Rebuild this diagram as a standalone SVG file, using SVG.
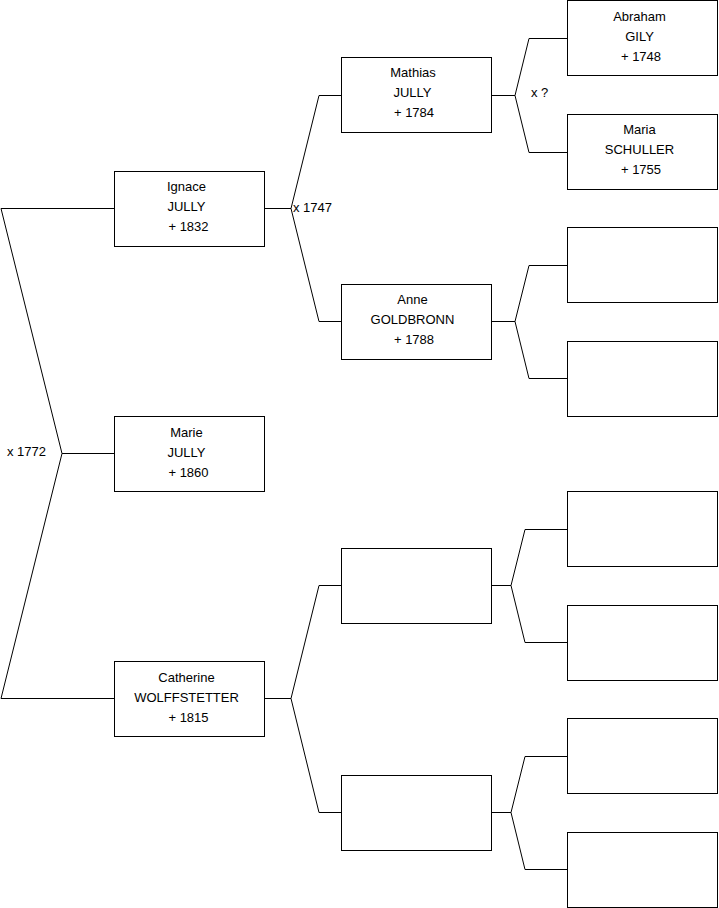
<svg xmlns="http://www.w3.org/2000/svg" width="719" height="908" viewBox="0 0 719 908">
<style>
rect.box{fill:#fff;stroke:#000;stroke-width:1}
.c{fill:none;stroke:#000;stroke-width:1}
text{font-family:"Liberation Sans",Arial,sans-serif;font-size:13px;fill:#000}
.m{text-anchor:middle}
</style>
<rect width="719" height="908" fill="#fff"/>
<g id="connectors">
<polyline class="c" points="114,208.5 1,208.5 62,453.5 1,698.5 114,698.5"/>
<line class="c" x1="62" y1="453.5" x2="114" y2="453.5"/>
<polyline class="c" points="341,95.5 319,95.5 291,208.5 319,321.5 341,321.5"/>
<line class="c" x1="265" y1="208.5" x2="291" y2="208.5"/>
<polyline class="c" points="567,38.5 529,38.5 515,95.5 529,152.5 567,152.5"/>
<line class="c" x1="491" y1="95.5" x2="515" y2="95.5"/>
<polyline class="c" points="567,265.5 529,265.5 515,321.5 529,378.5 567,378.5"/>
<line class="c" x1="491" y1="321.5" x2="515" y2="321.5"/>
<polyline class="c" points="341,585.5 319,585.5 291,698.5 319,812.5 341,812.5"/>
<line class="c" x1="265" y1="698.5" x2="291" y2="698.5"/>
<polyline class="c" points="567,529.5 525,529.5 511,585.5 525,642.5 567,642.5"/>
<line class="c" x1="491" y1="585.5" x2="511" y2="585.5"/>
<polyline class="c" points="567,756.5 525,756.5 511,812.5 525,869.5 567,869.5"/>
<line class="c" x1="491" y1="812.5" x2="511" y2="812.5"/>
<text x="7" y="456">x 1772</text>
<text x="293" y="212">x 1747</text>
<text x="531" y="97">x ?</text>
</g>
<g id="ignace"><rect class="box" x="114.5" y="171.5" width="150" height="75"/><text class="m" x="186.5" y="191">Ignace</text><text class="m" x="186.5" y="211">JULLY</text><text class="m" x="188.5" y="231">+ 1832</text></g>
<g id="marie"><rect class="box" x="114.5" y="416.5" width="150" height="75"/><text class="m" x="186.5" y="437">Marie</text><text class="m" x="186.5" y="457">JULLY</text><text class="m" x="188.5" y="477">+ 1860</text></g>
<g id="catherine"><rect class="box" x="114.5" y="661.5" width="150" height="75"/><text class="m" x="186.5" y="682">Catherine</text><text class="m" x="186.5" y="702">WOLFFSTETTER</text><text class="m" x="188.5" y="722">+ 1815</text></g>
<g id="mathias"><rect class="box" x="341.5" y="57.5" width="150" height="75"/><text class="m" x="413" y="77">Mathias</text><text class="m" x="412.5" y="97">JULLY</text><text class="m" x="414" y="117">+ 1784</text></g>
<g id="anne"><rect class="box" x="341.5" y="284.5" width="150" height="75"/><text class="m" x="412.5" y="304">Anne</text><text class="m" x="412.5" y="324">GOLDBRONN</text><text class="m" x="414" y="344">+ 1788</text></g>
<g id="empty2a"><rect class="box" x="341.5" y="548.5" width="150" height="75"/></g>
<g id="empty2b"><rect class="box" x="341.5" y="775.5" width="150" height="75"/></g>
<g id="abraham"><rect class="box" x="567.5" y="0.5" width="150" height="75"/><text class="m" x="639.5" y="21">Abraham</text><text class="m" x="639.5" y="41">GILY</text><text class="m" x="641" y="61">+ 1748</text></g>
<g id="maria"><rect class="box" x="567.5" y="114.5" width="150" height="75"/><text class="m" x="639.5" y="134">Maria</text><text class="m" x="639.5" y="154">SCHULLER</text><text class="m" x="641" y="174">+ 1755</text></g>
<g id="empty3a"><rect class="box" x="567.5" y="227.5" width="150" height="75"/></g>
<g id="empty3b"><rect class="box" x="567.5" y="341.5" width="150" height="75"/></g>
<g id="empty3c"><rect class="box" x="567.5" y="491.5" width="150" height="75"/></g>
<g id="empty3d"><rect class="box" x="567.5" y="605.5" width="150" height="75"/></g>
<g id="empty3e"><rect class="box" x="567.5" y="718.5" width="150" height="75"/></g>
<g id="empty3f"><rect class="box" x="567.5" y="832.5" width="150" height="75"/></g>
</svg>
